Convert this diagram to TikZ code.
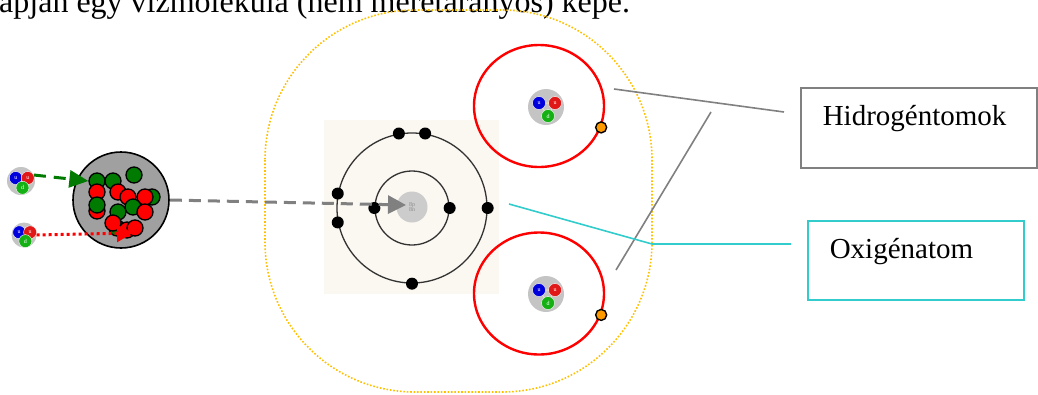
\documentclass[tikz,border=0pt]{standalone}
\usepackage{fontspec}
\setmainfont{Liberation Serif}
\usetikzlibrary{arrows.meta,shapes.geometric}
\definecolor{gold}{HTML}{FFC000}
\definecolor{hred}{HTML}{FF0000}
\definecolor{dotorange}{HTML}{FF9900}
\definecolor{teal2}{HTML}{33CCCC}
\definecolor{linegray}{HTML}{808080}
\definecolor{blobgray}{HTML}{A0A0A0}
\definecolor{icongray}{HTML}{C4C4C4}
\definecolor{paper}{HTML}{FBF7F1}
\definecolor{qblue}{HTML}{0000DD}
\definecolor{qred}{HTML}{E01818}
\definecolor{qgreen}{HTML}{14B014}
\definecolor{ballgreen}{HTML}{007A00}
\definecolor{gluon}{HTML}{EDE3A8}
\tikzset{
  icon/.style={circle, fill=icongray, inner sep=0pt, minimum size=#1},
  quark/.style={circle, fill=#1, draw=white, line width=0.4pt, inner sep=0pt,
    minimum size=13pt, text=white, font=\fontsize{6}{6}\selectfont},
  quarks/.pic={
    \draw[gluon, line width=1pt] (-7,-4) -- (9,-4) -- (2,9) -- cycle;
    \draw[black!70, line width=0.6pt] (-12,-9) arc[start angle=140, end angle=115, radius=16];
    \node[quark=qblue] at (-7,-4) {u};
    \node[quark=qred] at (9,-4) {u};
    \node[quark=qgreen] at (2,9) {d};
  },
  ball/.style={circle, fill=#1, draw=black, line width=1.3pt, inner sep=0pt, minimum size=16pt},
  electron/.style={circle, fill=black, inner sep=0pt, minimum size=12pt},
  orbit/.style={circle, draw=black!80, line width=1.3pt, inner sep=0pt, minimum size=#1},
  hatom/.style={ellipse, draw=hred, line width=2.4pt, inner sep=0pt, minimum width=130pt, minimum height=122pt},
  spot/.style={circle, fill=dotorange, draw=black, line width=1.4pt, inner sep=0pt, minimum size=11pt},
  lbl/.style={anchor=north west, align=left, inner xsep=22pt, inner ysep=0pt,
    font=\fontsize{29}{34}\selectfont, line width=1.5pt},
}
\begin{document}
\begin{tikzpicture}[x=1pt,y=-1pt]
\useasboundingbox (0,0) rectangle (1038,394);

% caption line at the top
\node[anchor=base west, inner sep=0pt, font=\fontsize{32}{36}\selectfont] (caption) at (-1,12)
  {apján egy vízmolekula (nem méretarányos) képe.};

% molecule outline
\draw[gold, line width=1.6pt, dash pattern=on 1.6pt off 1.8pt, rounded corners=150pt]
  (265,10) rectangle (652,392);

% oxygen atom: shell picture
\fill[paper] (324,120) rectangle (499,294);
\node[orbit=150pt] (orbO) at (412,208) {};
\node[orbit=74pt] (orbI) at (412,208) {};
\node[circle, inner sep=0pt, minimum size=31pt, fill=black!20, align=center,
  text=black!45, font=\fontsize{6}{6}\selectfont] (nuc) at (412,207) {8p\\[-1pt]8n};
\foreach \a/\n in {100/e1, 80/e2, 169/e3, 191/e4, 0/e5, 270/e6}
  \node[electron] (\n) at (orbO.\a) {};
\foreach \a/\n in {180/e7, 0/e8}
  \node[electron] (\n) at (orbI.\a) {};

% hydrogen atoms
\node[hatom] (h1) at (539,106) {};
\node[hatom] (h2) at (539,293.5) {};
\node[icon=36pt] (p1) at (546,107) {};
\pic at (p1) {quarks};
\node[icon=36pt] (p2) at (546,294) {};
\pic at (p2) {quarks};
\node[spot] (s1) at (h1.-19) {};
\node[spot] (s2) at (h2.-19) {};

% nucleus blob with nucleons
\node[circle, fill=blobgray, draw=black, line width=1.6pt, minimum size=96pt, inner sep=0pt] (blob) at (121,200) {};
\foreach \x/\y/\c/\n in {134/175/ballgreen/b1, 97/181/ballgreen/b2, 113/181/ballgreen/b3,
    97/192/hred/b4, 118/192/hred/b5, 152/197/ballgreen/b6, 128/197/hred/b7, 145/197/hred/b8,
    133/207/ballgreen/b9, 97/211/hred/b10, 97/205/ballgreen/b11, 118/212/ballgreen/b12,
    145/212/hred/b13, 117/228/ballgreen/b14, 113/223/hred/b15, 127/230/hred/b16, 135/228/hred/b17}
  \node[ball=\c] (\n) at (\x,\y) {};

% free proton and neutron
\node[icon=28pt] (q1) at (21,181) {};
\pic[scale=0.75] at (q1) {quarks};
\node[icon=25pt] (q2) at (24,235) {};
\pic[scale=0.68] at (q2) {quarks};

% arrows
\coordinate (tipR) at (133,233);
\coordinate (tipN) at (406,205);
\draw[ballgreen, line width=3pt, dash pattern=on 12pt off 8pt,
  -{Triangle[length=19pt,width=17pt]}] (q1.25) -- (b2.west);
\draw[hred, line width=3pt, dash pattern=on 3pt off 3pt,
  -{Triangle[length=16pt,width=17pt]}] (q2.east) -- (tipR);
\draw[linegray, line width=3pt, dash pattern=on 12pt off 7pt,
  -{Triangle[length=18pt,width=18pt]}] (blob.east) -- (tipN);

% labels
\node[lbl, draw=linegray, text height=38pt, text depth=42pt, text width=192pt] (hlab) at (800,87) {Hidrogéntomok};
\node[lbl, draw=teal2, text height=38pt, text depth=41pt, text width=172pt] (olab) at (807,220) {Oxigénatom};

% leader lines
\coordinate (ha) at (614,89);
\coordinate (hb) at (784,112);
\coordinate (hc) at (616,270);
\coordinate (hd) at (711,112);
\draw[linegray, line width=1.6pt] (ha) -- (hb);
\draw[linegray, line width=1.6pt] (hc) -- (hd);
\coordinate (oa) at (509,204);
\coordinate (ob) at (652,244);
\coordinate (oc) at (791,244);
\draw[teal2, line width=1.6pt] (oa) -- (ob) -- (oc);
\end{tikzpicture}
\end{document}
